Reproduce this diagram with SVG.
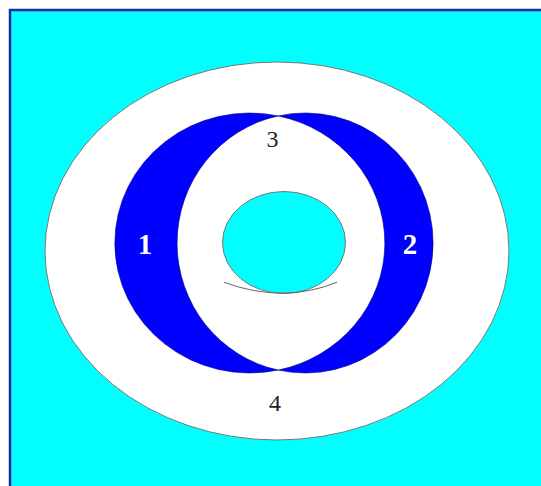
<svg xmlns="http://www.w3.org/2000/svg" width="541" height="486" viewBox="0 0 541 486">
<style>
.outline{stroke:#777;stroke-width:1}
.blue{fill:#0000ff;stroke:#00007a;stroke-width:0.6}
text{font-family:'Liberation Serif','Times New Roman',serif;text-anchor:middle}
.lblw{font-weight:bold;fill:#fff;font-size:29px}
.lblb{fill:#222;font-size:24px}
</style>
<rect x="0" y="0" width="541" height="486" fill="#fff"/>
<g id="background">
<rect x="10" y="10" width="560" height="520" fill="#00ffff" stroke="#2a2aa0" stroke-width="2.5"/>
</g>
<g id="outer-ring">
<ellipse cx="277" cy="251" rx="232" ry="189" fill="#fff" class="outline"/>
</g>
<g id="region1">
<path class="blue" d="M278.2 115.9 A135 130 0 1 0 278.2 370.1 A128 130 0 0 1 278.2 115.9 Z"/>
<text class="lblw" x="145" y="254">1</text>
</g>
<g id="region2">
<path class="blue" d="M278.2 115.9 A128 130 0 1 1 278.2 370.1 A135 130 0 0 0 278.2 115.9 Z"/>
<text class="lblw" x="410" y="254">2</text>
</g>
<g id="region3">
<text class="lblb" x="272.5" y="147">3</text>
</g>
<g id="region4">
<text class="lblb" x="275" y="411">4</text>
</g>
<g id="hole">
<ellipse cx="284" cy="242.5" rx="61.5" ry="51" fill="#00ffff" class="outline"/>
</g>
<g id="connectors">
<path d="M224 282.3 Q283 304 337 282.3" fill="none" stroke="#666" stroke-width="1"/>
</g>
</svg>
